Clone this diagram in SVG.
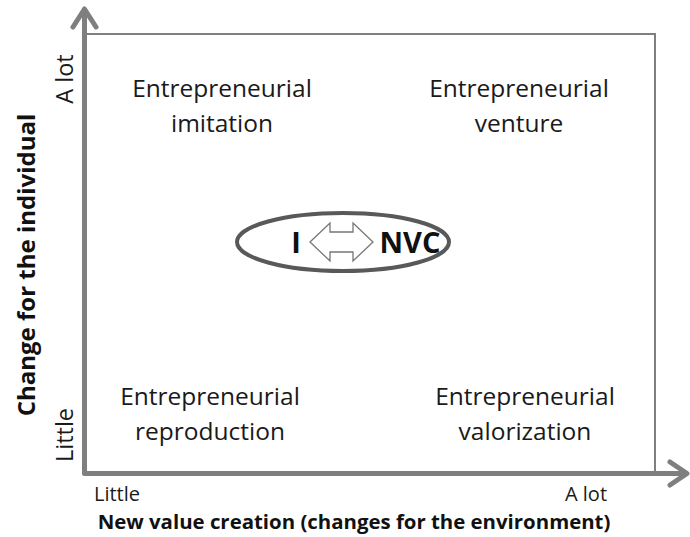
<svg xmlns="http://www.w3.org/2000/svg" width="690" height="537" viewBox="0 0 690 537">
<style>
.q{font-family:"Open Sans","Liberation Sans",sans-serif;font-size:24.5px;fill:#1a1a1a;text-anchor:middle}
.s{font-family:"Open Sans","Liberation Sans",sans-serif;font-size:20px;fill:#1a1a1a;text-anchor:middle}
.v{font-family:"Open Sans","Liberation Sans",sans-serif;font-size:23.5px;fill:#1a1a1a;text-anchor:middle}
.b{font-family:"Open Sans","Liberation Sans",sans-serif;font-weight:bold;fill:#111;text-anchor:middle}
.ax{stroke:#7f7f7f;stroke-width:5;fill:none;stroke-linecap:round;stroke-linejoin:round}
.fr{stroke:#7f7f7f;stroke-width:2;fill:none}
</style>
<rect width="690" height="537" fill="#fff"/>
<g id="connectors">
<polyline class="fr" points="85,34 655,34 655,474"/>
<polyline class="ax" points="84.5,10 84.5,473.5 686,473.5"/>
<polyline class="ax" points="73,27 84.5,9 96,27"/>
<polyline class="ax" points="670,462 687,473.5 670,485"/>
</g>
<g id="axis-labels">
<text class="v" transform="translate(73,79) rotate(-90)">A lot</text>
<text class="v" transform="translate(73,435) rotate(-90)">Little</text>
<text class="s" x="117" y="501">Little</text>
<text class="s" x="586" y="501">A lot</text>
<text class="b" style="font-size:20.4px" x="354" y="529">New value creation (changes for the environment)</text>
<text class="b" style="font-size:24px" transform="translate(35,265) rotate(-90)">Change for the individual</text>
</g>
<g id="imitation">
<text class="q" x="222" y="97">Entrepreneurial</text>
<text class="q" x="222" y="132">imitation</text>
</g>
<g id="venture">
<text class="q" x="519" y="97">Entrepreneurial</text>
<text class="q" x="519" y="132">venture</text>
</g>
<g id="reproduction">
<text class="q" x="210" y="405">Entrepreneurial</text>
<text class="q" x="210" y="440">reproduction</text>
</g>
<g id="valorization">
<text class="q" x="525" y="405">Entrepreneurial</text>
<text class="q" x="525" y="440">valorization</text>
</g>
<g id="center">
<ellipse cx="343" cy="242" rx="106" ry="29" fill="#fff" stroke="#595959" stroke-width="4"/>
<text class="b" style="font-size:29px" x="296" y="253">I</text>
<path d="M310,242 L330,223 L330,232 L353,232 L353,223 L373,242 L353,261 L353,252 L330,252 L330,261 Z" fill="#fff" stroke="#777" stroke-width="1.3"/>
<text class="b" style="font-size:29px" x="410" y="253">NVC</text>
</g>
</svg>
